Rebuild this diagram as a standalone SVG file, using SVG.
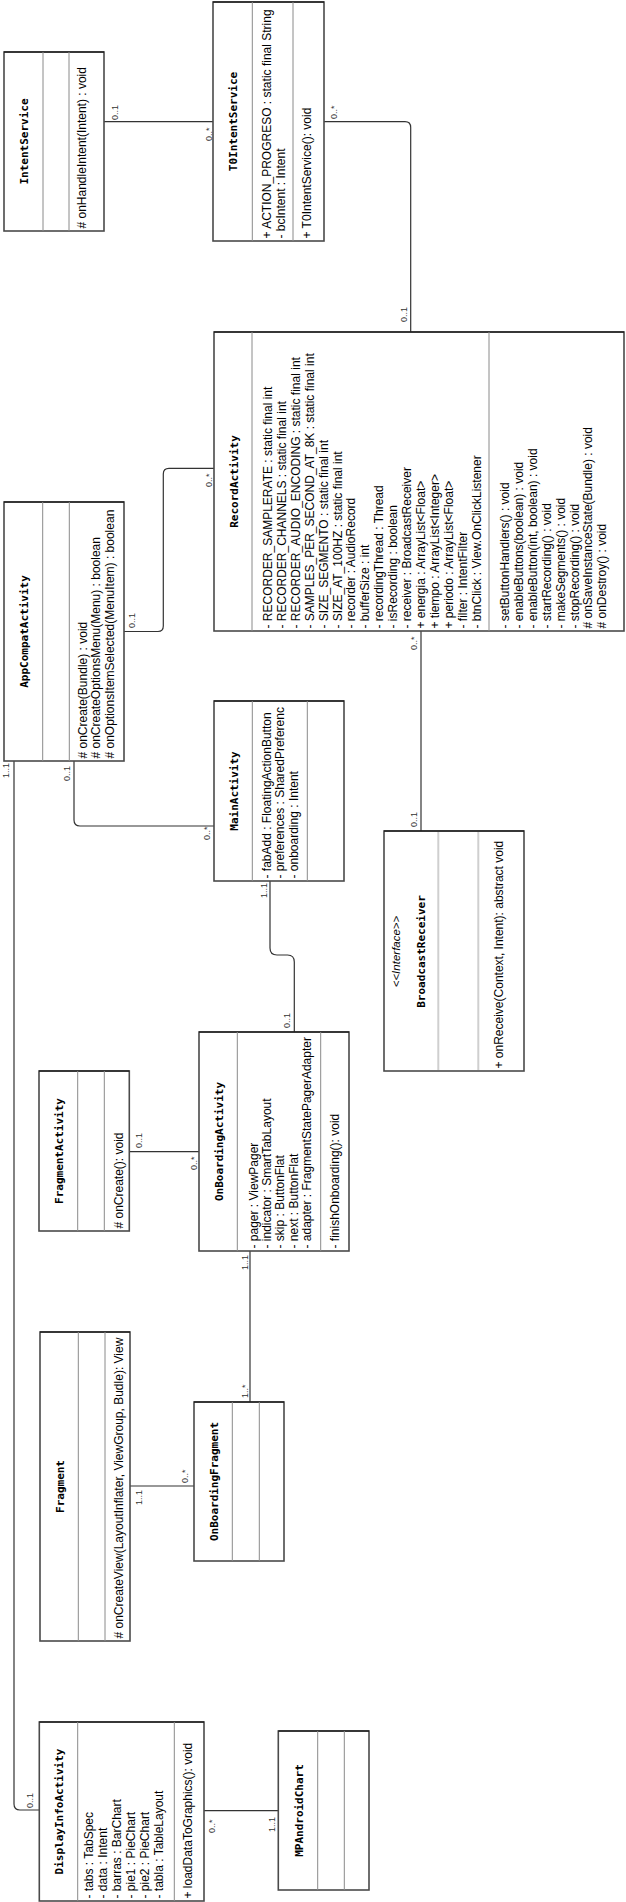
<svg xmlns="http://www.w3.org/2000/svg" width="626" height="1902" viewBox="0 0 626 1902">
<style>
.box{fill:#fff;stroke:#4a4a4a;stroke-width:1.6}
.top{stroke:#000;stroke-width:1}
.dv{stroke:#8a8a8a;stroke-width:1}
.dv2{stroke:#cfcfcf;stroke-width:2}
.title{font-family:"DejaVu Sans Mono","Liberation Mono",monospace;font-size:11px;font-weight:bold;text-anchor:middle;fill:#000}
.t{font-family:"Liberation Sans",Arial,sans-serif;font-size:12px;fill:#000}
.it{font-family:"Liberation Sans",Arial,sans-serif;font-size:11.5px;font-style:italic;text-anchor:middle;fill:#000}
.lbl{font-family:"Liberation Sans",Arial,sans-serif;font-size:9px;fill:#333}
.con{fill:none;stroke:#333;stroke-width:1.2}
</style>
<rect width="626" height="1902" fill="#fff"/>

<g id="connectors">
<path class="con" d="M104,121.7 H213"/>
<path class="con" d="M324,121.7 H405 Q410.7,121.7 410.7,127.5 V332"/>
<path class="con" d="M124,631.5 H158 Q163.3,631.5 163.3,626 V474 Q163.3,468.3 169,468.3 H214"/>
<path class="con" d="M74,761 V820 Q74,826 80,826 H214"/>
<path class="con" d="M14,761 V1804 Q14,1810 20,1810 H39.3"/>
<path class="con" d="M270,881 V948 Q270,955 277,955 H287.5 Q294.3,955 294.3,962 V1032"/>
<path class="con" d="M421,631 V831"/>
<path class="con" d="M129.3,1151.7 H199"/>
<path class="con" d="M250,1251 V1402"/>
<path class="con" d="M130,1486 H194"/>
<path class="con" d="M204,1810.7 H278.3"/>
<g class="lbl">
<text transform="translate(118 120) rotate(-90)">0..1</text>
<text transform="translate(211.5 141) rotate(-90)">0..*</text>
<text transform="translate(336.5 119) rotate(-90)">0..*</text>
<text transform="translate(406.5 322) rotate(-90)">0..1</text>
<text transform="translate(134.5 628) rotate(-90)">0..1</text>
<text transform="translate(211.5 487) rotate(-90)">0..*</text>
<text transform="translate(69.5 781) rotate(-90)">0..1</text>
<text transform="translate(209.5 840) rotate(-90)">0..*</text>
<text transform="translate(8.5 778) rotate(-90)">1..1</text>
<text transform="translate(33 1808) rotate(-90)">0..1</text>
<text transform="translate(266.5 898) rotate(-90)">1..1</text>
<text transform="translate(290 1028) rotate(-90)">0..1</text>
<text transform="translate(416.5 650) rotate(-90)">0..*</text>
<text transform="translate(416.5 827) rotate(-90)">0..1</text>
<text transform="translate(141.5 1148) rotate(-90)">0..1</text>
<text transform="translate(196.5 1170) rotate(-90)">0..*</text>
<text transform="translate(248 1270) rotate(-90)">1..1</text>
<text transform="translate(248 1398) rotate(-90)">1..*</text>
<text transform="translate(141.5 1505) rotate(-90)">1..1</text>
<text transform="translate(188 1483) rotate(-90)">0..*</text>
<text transform="translate(215 1833) rotate(-90)">0..*</text>
<text transform="translate(275 1832) rotate(-90)">1..1</text>
</g>
</g>

<g id="IntentService">
<rect class="box" x="4" y="52" width="100" height="179"/>
<line class="top" x1="4" y1="52" x2="104" y2="52"/>
<line class="dv" x1="43" y1="52" x2="43" y2="231"/>
<line class="dv" x1="69" y1="52" x2="69" y2="231"/>
<text class="title" transform="translate(27.5 141.5) rotate(-90)">IntentService</text>
<text class="t" transform="translate(86 228.5) rotate(-90)"># onHandleIntent(Intent) : void</text>
</g>

<g id="T0IntentService">
<rect class="box" x="213" y="2" width="111" height="239"/>
<line class="top" x1="213" y1="2" x2="324" y2="2"/>
<line class="dv" x1="252.3" y1="2" x2="252.3" y2="241"/>
<line class="dv" x1="293" y1="2" x2="293" y2="241"/>
<text class="title" transform="translate(237 121.5) rotate(-90)">T0IntentService</text>
<text class="t" transform="translate(271 238.5) rotate(-90)">+ ACTION_PROGRESO : static final String</text>
<text class="t" transform="translate(284.5 238.5) rotate(-90)">- bcIntent : Intent</text>
<text class="t" transform="translate(311 238.5) rotate(-90)">+ T0IntentService(): void</text>
</g>

<g id="RecordActivity">
<rect class="box" x="214" y="332" width="410" height="299"/>
<line class="top" x1="214" y1="332" x2="624" y2="332"/>
<line class="dv" x1="252" y1="332" x2="252" y2="631"/>
<line class="dv" x1="489" y1="332" x2="489" y2="631"/>
<text class="title" transform="translate(237.5 481.5) rotate(-90)">RecordActivity</text>
<text class="t" transform="translate(272 628.5) rotate(-90)">- RECORDER_SAMPLERATE : static final int</text>
<text class="t" transform="translate(285.9 628.5) rotate(-90)">- RECORDER_CHANNELS : static final int</text>
<text class="t" transform="translate(299.8 628.5) rotate(-90)">- RECORDER_AUDIO_ENCODING : static final int</text>
<text class="t" transform="translate(313.7 628.5) rotate(-90)">- SAMPLES_PER_SECOND_AT_8K : static final int</text>
<text class="t" transform="translate(327.6 628.5) rotate(-90)">- SIZE_SEGMENTO : static final int</text>
<text class="t" transform="translate(341.5 628.5) rotate(-90)">- SIZE_AT_100HZ : static final int</text>
<text class="t" transform="translate(355.4 628.5) rotate(-90)">- recorder : AudioRecord</text>
<text class="t" transform="translate(369.3 628.5) rotate(-90)">- bufferSize : int</text>
<text class="t" transform="translate(383.2 628.5) rotate(-90)">- recordingThread : Thread</text>
<text class="t" transform="translate(397.1 628.5) rotate(-90)">- isRecording : boolean</text>
<text class="t" transform="translate(411 628.5) rotate(-90)">- receiver : BroadcastReceiver</text>
<text class="t" transform="translate(424.9 628.5) rotate(-90)">+ energia : ArrayList&lt;Float&gt;</text>
<text class="t" transform="translate(438.8 628.5) rotate(-90)">+ tiempo : ArrayList&lt;Integer&gt;</text>
<text class="t" transform="translate(452.7 628.5) rotate(-90)">+ periodo : ArrayList&lt;Float&gt;</text>
<text class="t" transform="translate(466.6 628.5) rotate(-90)">- filter : IntentFilter</text>
<text class="t" transform="translate(480.5 628.5) rotate(-90)">- btnClick : View.OnClickListener</text>
<text class="t" transform="translate(509 628.5) rotate(-90)">- setButtonHandlers() : void</text>
<text class="t" transform="translate(522.9 628.5) rotate(-90)">- enableButtons(boolean) : void</text>
<text class="t" transform="translate(536.8 628.5) rotate(-90)">- enableButton(int, boolean) : void</text>
<text class="t" transform="translate(550.7 628.5) rotate(-90)">- startRecording() : void</text>
<text class="t" transform="translate(564.6 628.5) rotate(-90)">- makeSegments() : void</text>
<text class="t" transform="translate(578.5 628.5) rotate(-90)">- stopRecording() : void</text>
<text class="t" transform="translate(592.4 628.5) rotate(-90)"># onSaveInstanceState(Bundle) : void</text>
<text class="t" transform="translate(606.3 628.5) rotate(-90)"># onDestroy() : void</text>
</g>

<g id="AppCompatActivity">
<rect class="box" x="4" y="502" width="120" height="259"/>
<line class="top" x1="4" y1="502" x2="124" y2="502"/>
<line class="dv" x1="42.7" y1="502" x2="42.7" y2="761"/>
<line class="dv" x1="69.3" y1="502" x2="69.3" y2="761"/>
<text class="title" transform="translate(27.8 631.5) rotate(-90)">AppCompatActivity</text>
<text class="t" transform="translate(86.5 758.5) rotate(-90)"># onCreate(Bundle) : void</text>
<text class="t" transform="translate(100.1 758.5) rotate(-90)"># onCreateOptionsMenu(Menu) : boolean</text>
<text class="t" transform="translate(113.7 758.5) rotate(-90)"># onOptionsItemSelected(MenuItem) : boolean</text>
</g>

<g id="MainActivity">
<rect class="box" x="214" y="701" width="130" height="180"/>
<line class="top" x1="214" y1="701" x2="344" y2="701"/>
<line class="dv" x1="252.3" y1="701" x2="252.3" y2="881"/>
<line class="dv" x1="307.3" y1="701" x2="307.3" y2="881"/>
<text class="title" transform="translate(237.5 791) rotate(-90)">MainActivity</text>
<text class="t" transform="translate(270.5 878.5) rotate(-90)">- fabAdd : FloatingActionButton</text>
<text class="t" transform="translate(284.2 878.5) rotate(-90)">- preferences : SharedPreferenc</text>
<text class="t" transform="translate(297.9 878.5) rotate(-90)">- onboarding : Intent</text>
</g>

<g id="BroadcastReceiver">
<rect class="box" x="384" y="831" width="140" height="240"/>
<line class="top" x1="384" y1="831" x2="524" y2="831"/>
<line class="dv2" x1="438.3" y1="832" x2="438.3" y2="1070"/>
<line class="dv2" x1="478.3" y1="832" x2="478.3" y2="1070"/>
<text class="it" transform="translate(399.5 951.5) rotate(-90)">&lt;&lt;Interface&gt;&gt;</text>
<text class="title" transform="translate(424.5 951.5) rotate(-90)">BroadcastReceiver</text>
<text class="t" transform="translate(503 1068.5) rotate(-90)">+ onReceive(Context, Intent): abstract void</text>
</g>

<g id="OnBoardingActivity">
<rect class="box" x="199" y="1032" width="150" height="219"/>
<line class="top" x1="199" y1="1032" x2="349" y2="1032"/>
<line class="dv" x1="237.3" y1="1032" x2="237.3" y2="1251"/>
<line class="dv" x1="320.7" y1="1032" x2="320.7" y2="1251"/>
<text class="title" transform="translate(222.5 1141.5) rotate(-90)">OnBoardingActivity</text>
<text class="t" transform="translate(257.5 1248.5) rotate(-90)">- pager : ViewPager</text>
<text class="t" transform="translate(270.9 1248.5) rotate(-90)">- indicator : SmartTabLayout</text>
<text class="t" transform="translate(284.3 1248.5) rotate(-90)">- skip : ButtonFlat</text>
<text class="t" transform="translate(297.7 1248.5) rotate(-90)">- next : ButtonFlat</text>
<text class="t" transform="translate(311.1 1248.5) rotate(-90)">- adapter : FragmentStatePagerAdapter</text>
<text class="t" transform="translate(338.5 1248.5) rotate(-90)">- finishOnboarding(): void</text>
</g>

<g id="FragmentActivity">
<rect class="box" x="39" y="1071" width="90.3" height="160"/>
<line class="top" x1="39" y1="1071" x2="129.3" y2="1071"/>
<line class="dv" x1="77.7" y1="1071" x2="77.7" y2="1231"/>
<line class="dv" x1="104.3" y1="1071" x2="104.3" y2="1231"/>
<text class="title" transform="translate(62.8 1151) rotate(-90)">FragmentActivity</text>
<text class="t" transform="translate(122.5 1228.5) rotate(-90)"># onCreate(): void</text>
</g>

<g id="Fragment">
<rect class="box" x="40" y="1332" width="90" height="309"/>
<line class="top" x1="40" y1="1332" x2="130" y2="1332"/>
<line class="dv" x1="78.3" y1="1332" x2="78.3" y2="1641"/>
<line class="dv" x1="105" y1="1332" x2="105" y2="1641"/>
<text class="title" transform="translate(63.5 1486.5) rotate(-90)">Fragment</text>
<text class="t" transform="translate(123 1638.5) rotate(-90)"># onCreateView(LayoutInflater, ViewGroup, Budle): View</text>
</g>

<g id="OnBoardingFragment">
<rect class="box" x="194" y="1402" width="90" height="159"/>
<line class="top" x1="194" y1="1402" x2="284" y2="1402"/>
<line class="dv" x1="232.3" y1="1402" x2="232.3" y2="1561"/>
<line class="dv" x1="259.3" y1="1402" x2="259.3" y2="1561"/>
<text class="title" transform="translate(217.5 1481.5) rotate(-90)">OnBoardingFragment</text>
</g>

<g id="DisplayInfoActivity">
<rect class="box" x="39.3" y="1722" width="164.7" height="179"/>
<line class="top" x1="39.3" y1="1722" x2="204" y2="1722"/>
<line class="dv" x1="77.7" y1="1722" x2="77.7" y2="1901"/>
<line class="dv" x1="174.3" y1="1722" x2="174.3" y2="1901"/>
<text class="title" transform="translate(63 1811.5) rotate(-90)">DisplayInfoActivity</text>
<text class="t" transform="translate(93.3 1898.5) rotate(-90)">- tabs : TabSpec</text>
<text class="t" transform="translate(107.2 1898.5) rotate(-90)">- data : Intent</text>
<text class="t" transform="translate(121.1 1898.5) rotate(-90)">- barras : BarChart</text>
<text class="t" transform="translate(135 1898.5) rotate(-90)">- pie1 : PieChart</text>
<text class="t" transform="translate(148.9 1898.5) rotate(-90)">- pie2 : PieChart</text>
<text class="t" transform="translate(162.8 1898.5) rotate(-90)">- tabla : TableLayout</text>
<text class="t" transform="translate(191.5 1898.5) rotate(-90)">+ loadDataToGraphics(): void</text>
</g>

<g id="MPAndroidChart">
<rect class="box" x="278.3" y="1731" width="90.7" height="159"/>
<line class="top" x1="278.3" y1="1731" x2="369" y2="1731"/>
<line class="dv" x1="317.7" y1="1731" x2="317.7" y2="1890"/>
<line class="dv" x1="344.3" y1="1731" x2="344.3" y2="1890"/>
<text class="title" transform="translate(302.5 1810.5) rotate(-90)">MPAndroidChart</text>
</g>
</svg>
